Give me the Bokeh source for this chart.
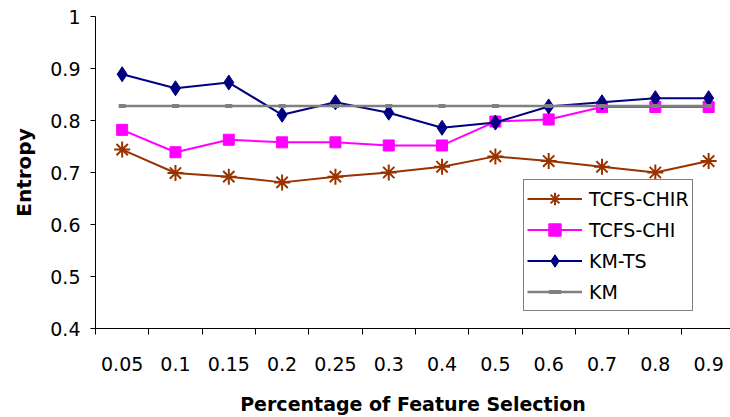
from bokeh.plotting import figure
from bokeh.models import (FixedTicker, NumeralTickFormatter, Legend, LegendItem, Range1d)
from bokeh.embed import file_html
from bokeh.resources import INLINE

# Percentage of features selected (x categories)
features = ["0.05", "0.1", "0.15", "0.2", "0.25", "0.3", "0.4", "0.5", "0.6", "0.7", "0.8", "0.9"]

# Entropy per method
tcfs_chir = [0.744, 0.699, 0.692, 0.681, 0.692, 0.700, 0.711, 0.731, 0.722, 0.711, 0.700, 0.722]
tcfs_chi = [0.782, 0.739, 0.763, 0.758, 0.758, 0.752, 0.752, 0.798, 0.802, 0.826, 0.826, 0.826]
km_ts = [0.889, 0.862, 0.873, 0.811, 0.835, 0.815, 0.786, 0.796, 0.827, 0.835, 0.843, 0.843]
km = [0.828] * 12

y_ticks = [0.4, 0.5, 0.6, 0.7, 0.8, 0.9, 1.0]

FONT = "DejaVu Sans"

xs = list(range(1, len(features) + 1))

p = figure(width=730, height=417, output_backend="svg", toolbar_location=None,
           x_range=Range1d(0.5, 12.41), y_range=Range1d(0.4, 1.0),
           min_border_left=95, min_border_right=0, min_border_top=16, min_border_bottom=86)
p.outline_line_color = None
p.xgrid.visible = False
p.ygrid.visible = False
p.background_fill_color = "white"
p.border_fill_color = "white"

# x axis: category labels at centres, tick marks between categories
xa = p.xaxis[0]
xa.ticker = FixedTicker(ticks=xs, minor_ticks=[x - 0.5 for x in xs])
xa.major_label_overrides = {x: f for x, f in zip(xs, features)}
xa.major_tick_out = 0
xa.major_tick_in = 0
xa.minor_tick_out = 6
xa.minor_tick_in = 0
xa.minor_tick_line_color = "black"
xa.axis_line_color = "black"
xa.major_label_text_font = FONT
xa.major_label_text_font_size = "19px"
xa.major_label_text_color = "black"
xa.major_label_standoff = 22
xa.axis_label = "Percentage of Feature Selection"
xa.axis_label_text_font = FONT
xa.axis_label_text_font_style = "bold"
xa.axis_label_text_font_size = "19px"
xa.axis_label_text_color = "black"
xa.axis_label_standoff = 19

ya = p.yaxis[0]
ya.ticker = FixedTicker(ticks=y_ticks, minor_ticks=[])
ya.formatter = NumeralTickFormatter(format="0.[0]")
ya.major_tick_out = 5
ya.major_tick_in = 0
ya.major_tick_line_color = "black"
ya.axis_line_color = "black"
ya.major_label_text_font = FONT
ya.major_label_text_font_size = "19px"
ya.major_label_text_color = "black"
ya.major_label_standoff = 10
ya.axis_label = "Entropy"
ya.axis_label_text_font = FONT
ya.axis_label_text_font_style = "bold"
ya.axis_label_text_font_size = "20px"
ya.axis_label_text_color = "black"
ya.axis_label_standoff = 11

BROWN = "#993300"
MAGENTA = "#FF00FF"
NAVY = "#000080"
GRAY = "#808080"

l1 = p.line(xs, tcfs_chir, line_color=BROWN, line_width=2)
m1 = p.scatter(xs, tcfs_chir, marker="asterisk", size=16, line_color=BROWN, line_width=2)

l2 = p.line(xs, tcfs_chi, line_color=MAGENTA, line_width=2)
m2 = p.scatter(xs, tcfs_chi, marker="square", size=11, fill_color=MAGENTA, line_color=MAGENTA)

l3 = p.line(xs, km_ts, line_color=NAVY, line_width=2)
m3 = p.scatter(xs, km_ts, marker="diamond", size=15, fill_color=NAVY, line_color=NAVY)

l4 = p.line(xs, km, line_color=GRAY, line_width=2.5)
m4 = p.scatter(xs, km, marker="dash", size=7, line_color=GRAY, line_width=4)

legend = Legend(items=[
    LegendItem(label="TCFS-CHIR", renderers=[l1, m1]),
    LegendItem(label="TCFS-CHI", renderers=[l2, m2]),
    LegendItem(label="KM-TS", renderers=[l3, m3]),
    LegendItem(label="KM", renderers=[l4, m4]),
], location=(428, 17))
legend.border_line_color = "black"
legend.border_line_width = 1
legend.background_fill_color = "white"
legend.background_fill_alpha = 1
legend.glyph_width = 55
legend.glyph_height = 31
legend.label_height = 31
legend.label_standoff = 7
legend.padding = 3
legend.spacing = 0
legend.margin = 0
legend.label_text_font = FONT
legend.label_text_font_size = "19px"
legend.label_text_color = "black"
p.add_layout(legend, "center")

open("out.html", "w").write(file_html(p, INLINE))
